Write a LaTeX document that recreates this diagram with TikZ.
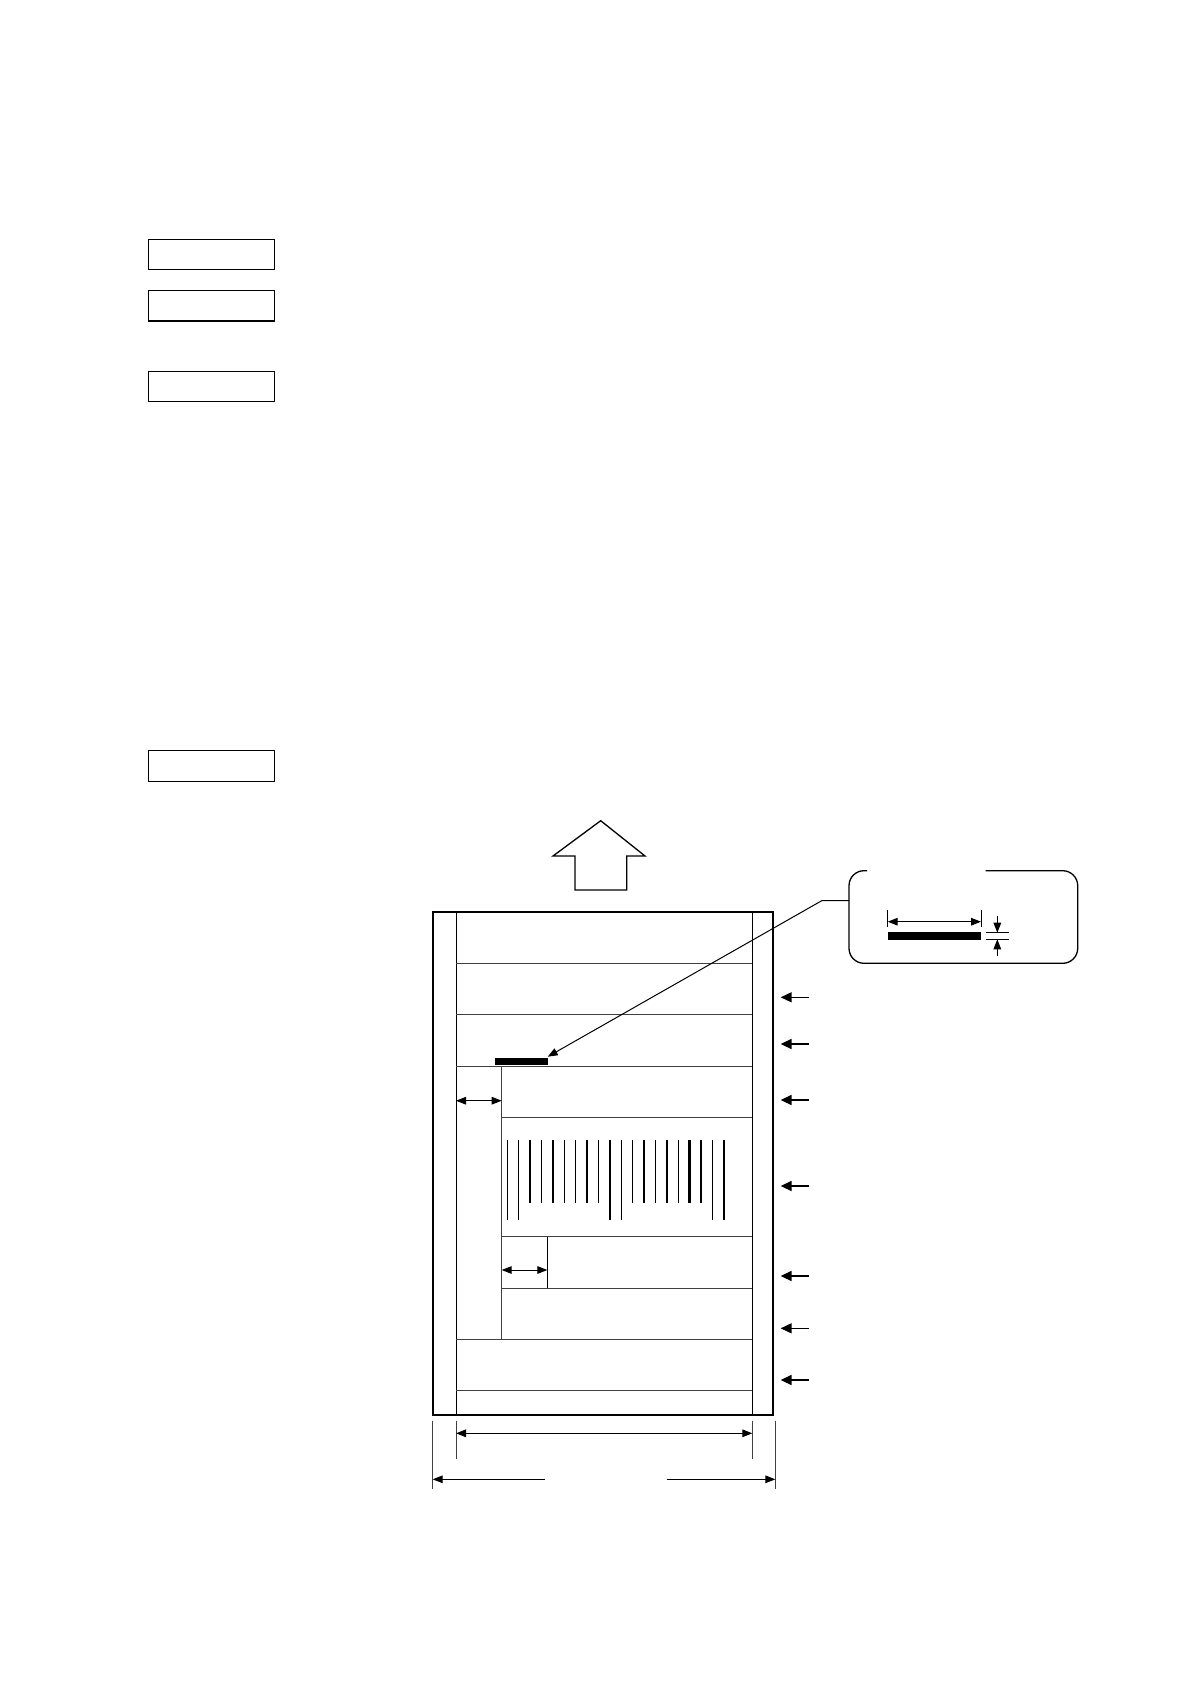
\documentclass[tikz,border=0pt]{standalone}
\usetikzlibrary{arrows.meta}
\begin{document}
\begin{tikzpicture}[x=0.5pt,y=-0.5pt,
  thick line/.style={line width=1.1pt},
  thin line/.style={line width=0.5pt},
  hairline/.style={line width=0.45pt, black!75},
  dimarrow/.style={line width=0.5pt,{Triangle[length=5pt,width=3.8pt]}-{Triangle[length=5pt,width=3.8pt]}},
  sidearrow/.style={line width=0.55pt,-{Triangle[length=5.4pt,width=5pt]}},
  labelbox/.style={line width=0.6pt},
  thinbar/.style={line width=0.65pt},
  thickbar/.style={line width=1.25pt}]
\useasboundingbox (0,0) rectangle (1190,1684);

% label boxes on the left
\draw[labelbox] (148.3,239.3) rectangle (274.3,269.3);
\draw[labelbox] (148.3,290.7) rectangle (274.3,321);
\draw[labelbox] (148.3,371.7) rectangle (274.3,401.7);
\draw[labelbox] (148.3,750.7) rectangle (274.3,781.7);

% feed direction block arrow
\draw[line width=0.65pt] (575,890) -- (575,856) -- (553,856) -- (600.7,820.7) -- (645,856) -- (626.7,856) -- (626.7,890) -- cycle;

% label outline
\draw[thick line] (432.7,911.7) rectangle (773.3,1415);
\draw[thin line] (456,911.7) -- (456,1415);
\draw[thin line] (752.3,911.7) -- (752.3,1415);

% horizontal separators
\draw[hairline] (456,963.3) -- (752.3,963.3);
\draw[hairline] (456,1014) -- (752.3,1014);
\draw[hairline] (456,1066) -- (752.3,1066);
\draw[hairline] (501.7,1117.3) -- (752.3,1117.3);
\draw[hairline] (501.7,1236.7) -- (752.3,1236.7);
\draw[hairline] (501.7,1288.3) -- (752.3,1288.3);
\draw[hairline] (456,1339.3) -- (752.3,1339.3);
\draw[hairline] (456,1390.7) -- (752.3,1390.7);

% inner verticals
\draw[hairline] (501.7,1066) -- (501.7,1339.3);
\draw[thin line] (547.3,1236.7) -- (547.3,1288.3);

% black bar (rule line)
\fill (495,1058.3) rectangle (547.7,1065.3);

% barcode
\foreach \i in {0,...,19} {
  \pgfmathsetmacro{\bx}{507.3+11.4*\i}
  \ifnum\i=0 \def\bl{1220}\else\ifnum\i=1 \def\bl{1220}\else\ifnum\i=9 \def\bl{1220}\else\ifnum\i=10 \def\bl{1220}\else\ifnum\i=18 \def\bl{1220}\else\ifnum\i=19 \def\bl{1220}\else\def\bl{1202.7}\fi\fi\fi\fi\fi\fi
  \ifnum\i=2 \def\bs{thickbar}\else\ifnum\i=4 \def\bs{thickbar}\else\ifnum\i=7 \def\bs{thickbar}\else\ifnum\i=14 \def\bs{thickbar}\else\ifnum\i=16 \def\bs{thickbar}\else\def\bs{thinbar}\fi\fi\fi\fi\fi
  \draw[\bs] (\bx,1140) -- (\bx,\bl);
}

% margin dimension arrows inside label
\coordinate (m1a) at (456,1100.7);
\coordinate (m1b) at (501.7,1100.7);
\draw[dimarrow] (m1a) -- (m1b);
\coordinate (m2a) at (501.7,1270);
\coordinate (m2b) at (547.3,1270);
\draw[dimarrow] (m2a) -- (m2b);

% right-side pointer arrows
\foreach \yy in {997.3,1044,1100,1186,1276,1328.3,1380} {
  \draw[sidearrow] (809.3,\yy) -- (780.7,\yy);
}

% callout
\coordinate (bartip) at (547.7,1056.7);
\coordinate (kink) at (821.7,900.7);
\coordinate (boxleft) at (849,900.7);
\draw[thin line,-{Triangle[length=5pt,width=3.8pt]}] (boxleft) -- (kink) -- (bartip);
\draw[line width=0.65pt, rounded corners=7.5pt] (985.7,870.7) -- (1077.7,870.7) -- (1077.7,963.3) -- (849,963.3) -- (849,870.7) -- (867,870.7);

% callout contents
\fill (887.7,932) rectangle (981,940);
\draw[thin line] (887.7,910) -- (887.7,927);
\draw[thin line] (981,910) -- (981,927);
\draw[dimarrow] (887.7,921.7) -- (981,921.7);
\draw[thin line] (986,932.7) -- (1009.3,932.7);
\draw[thin line] (986,939.3) -- (1009.3,939.3);
\draw[thin line,-{Triangle[length=5pt,width=3.8pt]}] (997.3,915.7) -- (997.3,932.7);
\draw[thin line,-{Triangle[length=5pt,width=3.8pt]}] (997.3,956) -- (997.3,939.3);

% bottom dimensions
\draw[hairline] (456,1420.7) -- (456,1459.3);
\draw[hairline] (752.3,1420.7) -- (752.3,1459.3);
\draw[dimarrow] (456,1433.3) -- (752.3,1433.3);
\draw[hairline] (432.7,1420.7) -- (432.7,1489);
\draw[hairline] (775.3,1420.7) -- (775.3,1489);
\draw[thin line,-{Triangle[length=5pt,width=3.8pt]}] (545,1479.3) -- (432.7,1479.3);
\draw[thin line,-{Triangle[length=5pt,width=3.8pt]}] (666.7,1479.3) -- (775.3,1479.3);
\end{tikzpicture}
\end{document}
